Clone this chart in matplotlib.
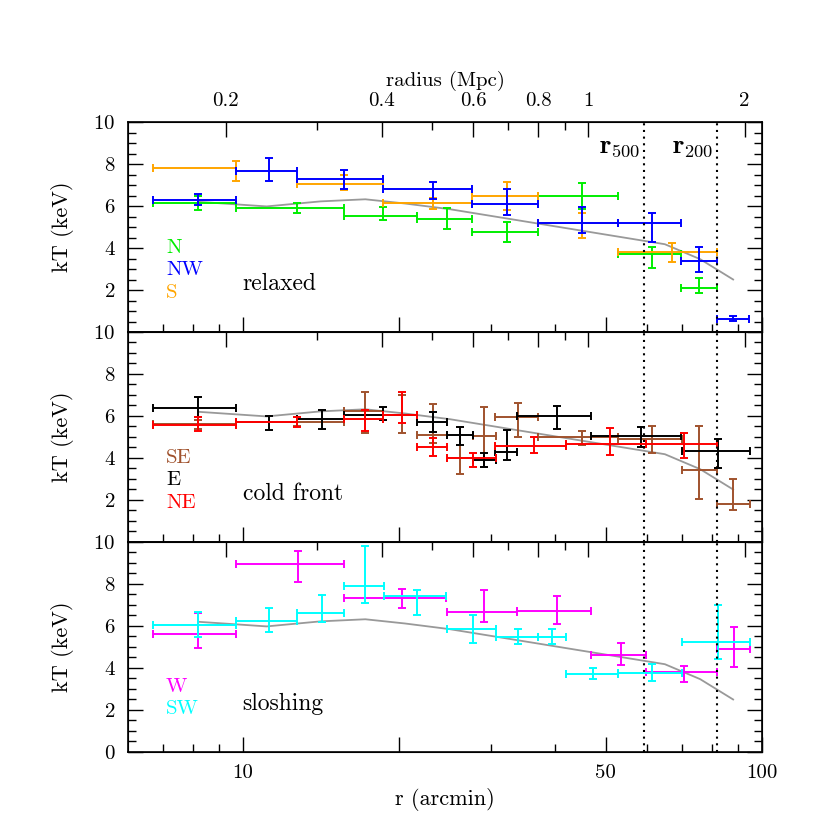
import numpy as np
import matplotlib
matplotlib.use('Agg')
from matplotlib import pyplot as plt
from matplotlib.ticker import FixedLocator, FixedFormatter, NullFormatter

plt.rcParams['font.family'] = 'serif'
plt.rcParams['font.serif'] = ['cmr10']
plt.rcParams['mathtext.fontset'] = 'cm'
plt.rcParams['axes.formatter.use_mathtext'] = True

# arcmin per Mpc for the top axis
ARCMIN_PER_MPC = 46.3
R500 = 59.3
R200 = 81.8

# model profile (grey line)
model_r = [8.2, 11.1, 14.1, 17.2, 20.5, 25.0, 65.0, 76.0, 88.0]
model_kt = [6.2, 5.98, 6.22, 6.32, 6.12, 5.85, 4.18, 3.47, 2.5]

# ---- relaxed panel ----
n_r = [8.2, 12.69, 18.63, 24.7, 32.3, 44.95, 61.3, 75.7]
n_lo = [6.7, 9.69, 15.67, 21.6, 27.6, 36.97, 52.9, 69.8]
n_hi = [9.69, 15.67, 21.6, 27.6, 36.97, 52.9, 69.8, 81.8]
n_kt = [6.13, 5.89, 5.54, 5.38, 4.78, 6.48, 3.70, 2.08]
n_up = [0.33, 0.23, 0.43, 0.51, 0.47, 0.63, 0.36, 0.48]
n_dn = [0.30, 0.22, 0.21, 0.48, 0.48, 0.60, 0.64, 0.24]

nw_r = [8.2, 11.24, 15.67, 23.2, 32.3, 44.95, 61.3, 75.7, 88.1]
nw_lo = [6.7, 9.69, 12.69, 18.63, 27.6, 36.97, 52.9, 69.8, 81.8]
nw_hi = [9.69, 12.69, 18.63, 27.6, 36.97, 52.9, 69.8, 81.8, 94.5]
nw_kt = [6.27, 7.68, 7.27, 6.79, 6.08, 5.21, 5.17, 3.38, 0.63]
nw_up = [0.30, 0.59, 0.44, 0.34, 0.71, 0.76, 0.48, 0.68, 0.12]
nw_dn = [0.20, 0.47, 0.45, 0.47, 0.51, 0.48, 0.87, 0.51, 0.10]

s_r = [9.69, 15.67, 23.2, 32.3, 44.95, 67.2]
s_lo = [6.7, 12.69, 18.63, 27.6, 36.97, 52.9]
s_hi = [9.69, 18.63, 27.6, 36.97, 52.9, 81.8]
s_kt = [7.79, 7.05, 6.13, 6.48, 5.17, 3.83]
s_up = [0.37, 0.43, 0.24, 0.68, 0.48, 0.39]
s_dn = [0.58, 0.30, 0.29, 0.67, 0.68, 0.51]

# ---- cold front panel ----
se_r = [8.2, 12.69, 17.18, 20.2, 23.2, 26.2, 29.1, 33.8, 44.9, 61.3, 75.7, 88.1]
se_lo = [6.7, 12.69, 15.67, 18.63, 21.6, 24.7, 27.7, 30.6, 37.0, 52.9, 70.0, 81.8]
se_hi = [9.69, 15.67, 18.63, 21.6, 24.7, 27.7, 30.7, 37.0, 52.9, 70.0, 81.8, 94.8]
se_kt = [5.60, 5.73, 6.25, 6.05, 5.10, 4.02, 5.05, 5.97, 5.02, 4.90, 3.43, 1.81]
se_up = [0.20, 0.20, 0.91, 0.95, 1.47, 1.47, 1.39, 0.66, 0.28, 0.62, 2.09, 1.19]
se_dn = [0.20, 0.20, 1.08, 0.85, 0.40, 0.80, 1.46, 0.99, 0.40, 0.65, 1.40, 0.29]

e_r = [8.2, 11.24, 14.18, 18.63, 23.2, 26.2, 29.1, 32.2, 40.2, 58.5, 82.4]
e_lo = [6.7, 9.69, 12.69, 15.67, 21.6, 24.7, 27.7, 30.6, 33.7, 46.9, 70.0]
e_hi = [9.69, 12.69, 15.67, 21.6, 24.7, 27.7, 30.7, 33.7, 46.9, 69.8, 94.8]
e_kt = [6.37, 5.73, 5.86, 6.05, 5.73, 5.10, 3.90, 4.30, 6.00, 5.05, 4.35]
e_up = [0.55, 0.27, 0.43, 0.39, 0.48, 0.39, 0.35, 1.03, 0.48, 0.41, 0.54]
e_dn = [0.40, 0.40, 0.49, 0.24, 0.48, 0.48, 0.31, 0.40, 0.63, 0.54, 0.81]

ne_r = [8.2, 12.69, 17.18, 20.2, 23.2, 27.7, 36.3, 50.9, 70.7]
ne_lo = [6.7, 9.69, 15.67, 18.63, 21.6, 24.7, 30.6, 41.9, 59.8]
ne_hi = [9.69, 12.69, 18.63, 21.6, 24.7, 30.7, 41.9, 59.8, 81.8]
ne_kt = [5.57, 5.73, 5.86, 6.05, 4.51, 3.98, 4.57, 4.65, 4.65]
ne_up = [0.37, 0.24, 0.43, 1.08, 0.43, 0.24, 0.41, 0.79, 0.52]
ne_dn = [0.28, 0.24, 0.57, 0.40, 0.41, 0.42, 0.32, 0.51, 0.63]

# ---- sloshing panel ----
w_r = [8.2, 12.74, 20.2, 29.1, 40.2, 53.4, 70.7, 88.4]
w_lo = [6.7, 9.69, 15.67, 24.7, 33.7, 46.9, 59.8, 81.8]
w_hi = [9.69, 15.67, 24.6, 33.7, 46.9, 59.8, 81.8, 94.8]
w_kt = [5.60, 8.94, 7.35, 6.68, 6.73, 4.62, 3.79, 4.89]
w_up = [1.00, 0.65, 0.41, 1.03, 0.71, 0.56, 0.31, 1.08]
w_dn = [0.66, 0.83, 0.48, 0.51, 0.65, 0.48, 0.44, 0.83]

sw_r = [8.2, 11.24, 14.18, 17.18, 21.6, 27.7, 33.8, 39.4, 47.3, 61.3, 82.4]
sw_lo = [6.7, 9.69, 12.69, 15.67, 18.72, 24.7, 30.7, 37.0, 41.9, 52.9, 70.0]
sw_hi = [9.69, 12.69, 15.67, 18.72, 24.6, 30.7, 37.0, 41.9, 52.9, 70.0, 94.8]
sw_kt = [6.07, 6.24, 6.63, 7.90, 7.43, 5.86, 5.49, 5.49, 3.70, 3.75, 5.22]
sw_up = [0.60, 0.60, 0.85, 1.91, 0.28, 0.66, 0.35, 0.35, 0.29, 0.44, 1.78]
sw_dn = [0.60, 0.51, 0.45, 0.79, 0.91, 0.65, 0.35, 0.35, 0.24, 0.35, 0.81]

panels = [
   ('relaxed', [('N', '#00ee00', n_r, n_lo, n_hi, n_kt, n_up, n_dn),
                ('S', '#ffa500', s_r, s_lo, s_hi, s_kt, s_up, s_dn),
                ('NW', '#0000ff', nw_r, nw_lo, nw_hi, nw_kt, nw_up, nw_dn)],
    ['N', 'NW', 'S']),
   ('cold front', [('SE', '#a0522d', se_r, se_lo, se_hi, se_kt, se_up, se_dn),
                   ('E', '#000000', e_r, e_lo, e_hi, e_kt, e_up, e_dn),
                   ('NE', '#ff0000', ne_r, ne_lo, ne_hi, ne_kt, ne_up, ne_dn)],
    ['SE', 'E', 'NE']),
   ('sloshing', [('W', '#ff00ff', w_r, w_lo, w_hi, w_kt, w_up, w_dn),
                 ('SW', '#00ffff', sw_r, sw_lo, sw_hi, sw_kt, sw_up, sw_dn)],
    ['W', 'SW']),
]
label_y = {3: [0.40, 0.295, 0.186], 2: [0.31, 0.205]}

fig = plt.figure(figsize=(8.3, 8.3), dpi=100)
gs = fig.add_gridspec(3, 1, left=0.1542, right=0.918, top=0.853, bottom=0.094, hspace=0)

xmaj = [10, 20, 50, 100]
xmin = [7, 8, 9, 30, 40, 60, 70, 80, 90]
mmaj = [0.2, 0.4, 0.6, 0.8, 1, 2]
mmin = [0.3, 0.5, 0.7, 0.9]

for i, (title, series, names) in enumerate(panels):
   ax = fig.add_subplot(gs[i])
   ax.plot(model_r, model_kt, color='#999999', lw=1.3, zorder=1)
   for name, col, r, lo, hi, kt, up, dn in series:
      r = np.array(r); kt = np.array(kt)
      xerr = [r - np.array(lo), np.array(hi) - r]
      yerr = [np.array(dn), np.array(up)]
      ax.errorbar(r, kt, xerr=xerr, yerr=yerr, fmt='none', ecolor=col,
                  elinewidth=1.4, capsize=3, capthick=1.4, zorder=2)
   for xv in (R500, R200):
      ax.axvline(xv, color='k', ls=(0, (1, 2.2)), lw=1.5, zorder=3)

   ax.set_xscale('log')
   ax.set_xlim(6, 100)
   ax.set_ylim(0, 10)
   ax.xaxis.set_major_locator(FixedLocator(xmaj))
   ax.xaxis.set_minor_locator(FixedLocator(xmin))
   ax.xaxis.set_minor_formatter(NullFormatter())
   if i == 2:
      ax.xaxis.set_major_formatter(FixedFormatter(['10', '', '50', '100']))
      ax.set_yticks([0, 2, 4, 6, 8, 10])
      ax.set_xlabel('r (arcmin)', fontsize=16, labelpad=4)
   else:
      ax.xaxis.set_major_formatter(NullFormatter())
      ax.set_yticks([2, 4, 6, 8, 10])
   ax.set_yticks(np.arange(0, 10.01, 0.5), minor=True)
   ax.tick_params(which='both', direction='in', right=True, top=False, width=1, labelsize=15)
   ax.tick_params(which='major', length=11, pad=9)
   ax.tick_params(which='minor', length=5.5)
   ax.set_ylabel('kT (keV)', fontsize=16)
   ax.yaxis.set_label_coords(-0.085, 0.5)
   for sp in ax.spines.values():
      sp.set_linewidth(1.2)

   ax2 = ax.twiny()
   ax2.set_xscale('log')
   ax2.set_xlim(6 / ARCMIN_PER_MPC, 100 / ARCMIN_PER_MPC)
   ax2.xaxis.set_major_locator(FixedLocator(mmaj))
   ax2.xaxis.set_minor_locator(FixedLocator(mmin))
   ax2.xaxis.set_minor_formatter(NullFormatter())
   ax2.tick_params(which='both', direction='in', width=1, labelsize=15)
   ax2.tick_params(which='major', length=11, pad=9)
   ax2.tick_params(which='minor', length=5.5)
   if i == 0:
      ax2.xaxis.set_major_formatter(FixedFormatter(['0.2', '0.4', '0.6', '0.8', '1', '2']))
      ax2.set_xlabel('radius (Mpc)', fontsize=15, labelpad=4)
   else:
      ax2.xaxis.set_major_formatter(NullFormatter())

   cols = {s[0]: s[1] for s in series}
   for name, yy in zip(names, label_y[len(names)]):
      ax.text(0.06, yy, name, color=cols[name], fontsize=15, transform=ax.transAxes,
              ha='left', va='center')
   ax.text(0.181, 0.228, title, fontsize=17, transform=ax.transAxes, ha='left', va='center')

   if i == 0:
      ax.text(R500 * 0.985, 8.8, r'$\mathbf{r}_{\mathbf{500}}$', fontsize=19,
              ha='right', va='center')
      ax.text(R200 * 0.985, 8.8, r'$\mathbf{r}_{\mathbf{200}}$', fontsize=19,
              ha='right', va='center')

plt.savefig('out.png', dpi=100)
